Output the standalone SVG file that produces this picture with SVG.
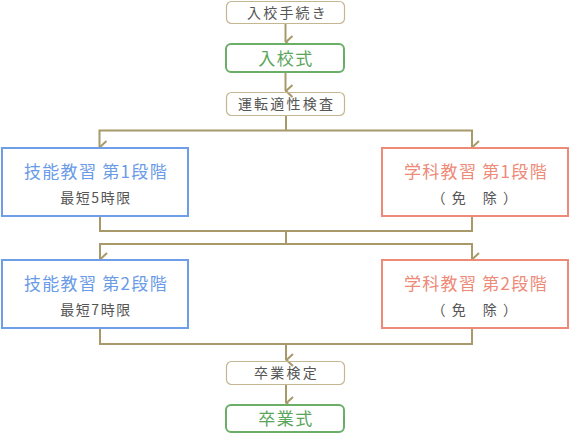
<svg xmlns="http://www.w3.org/2000/svg" width="570" height="434" viewBox="0 0 570 434">
<defs>
<style>
text{font-family:"Noto Sans CJK JP","Liberation Sans",sans-serif;text-anchor:middle}
.sm{fill:none;stroke:#c4b691;stroke-width:1.2}
.gr{fill:#fff;stroke:#6aae68;stroke-width:2}
.bl{fill:#fff;stroke:#6f9ee8;stroke-width:2}
.sa{fill:#fff;stroke:#ee8a78;stroke-width:2}
.t13{font-size:14px;fill:#555;letter-spacing:2.2px}
.tg{font-size:17px;fill:#5aa55a;letter-spacing:1.5px}
.tb{font-size:17px;fill:#6b9be6;letter-spacing:1.3px}
.ts{font-size:17px;fill:#ee8a78;letter-spacing:1.3px}
.sub{font-size:14px;fill:#555;letter-spacing:1.5px}
.ln{fill:none;stroke:#a8996b;stroke-width:2}
</style>
<marker id="ar" viewBox="0 0 14 10" refX="7" refY="9" markerWidth="14" markerHeight="10" markerUnits="userSpaceOnUse" orient="auto-start-reverse">
<path d="M1,2 L7,8.5 L13,2" fill="none" stroke="#a8996b" stroke-width="2"/>
</marker>
</defs>
<g id="connectors">
<path class="ln" d="M285.5,24 V42" marker-end="url(#ar)"/>
<path class="ln" d="M285.5,72 V91" marker-end="url(#ar)"/>
<path class="ln" d="M286,116 V130.5"/>
<path class="ln" d="M99.5,147 V130.5 H472 V147" marker-start="url(#ar)" marker-end="url(#ar)"/>
<path class="ln" d="M100,216 V231 H472 V216"/>
<path class="ln" d="M286,231 V244"/>
<path class="ln" d="M100,259 V244 H472 V259" marker-start="url(#ar)" marker-end="url(#ar)"/>
<path class="ln" d="M100,328 V344 H472 V328"/>
<path class="ln" d="M286,344 V360" marker-end="url(#ar)"/>
<path class="ln" d="M286,385 V403" marker-end="url(#ar)"/>
</g>
<g id="n1"><rect class="sm" x="226.5" y="1.5" width="118" height="22" rx="5"/><text class="t13" x="287.5" y="17.5">入校手続き</text></g>
<g id="n2"><rect class="gr" x="226" y="44" width="118" height="28" rx="5"/><text class="tg" x="286" y="65">入校式</text></g>
<g id="n3"><rect class="sm" x="226.5" y="92.5" width="118" height="23" rx="5"/><text class="t13" x="286.5" y="109">運転適性検査</text></g>
<g id="n4"><rect class="bl" x="2" y="148" width="186" height="68"/><text class="tb" x="96" y="178">技能教習  第1段階</text><text class="sub" x="96" y="203">最短5時限</text></g>
<g id="n5"><rect class="sa" x="382" y="148" width="186" height="68"/><text class="ts" x="476" y="178">学科教習  第1段階</text><text class="sub" x="475" y="203" xml:space="preserve">（ 免　除 ）</text></g>
<g id="n6"><rect class="bl" x="2" y="260" width="186" height="68"/><text class="tb" x="96" y="290">技能教習  第2段階</text><text class="sub" x="96" y="315">最短7時限</text></g>
<g id="n7"><rect class="sa" x="382" y="260" width="186" height="68"/><text class="ts" x="476" y="290">学科教習  第2段階</text><text class="sub" x="475" y="315" xml:space="preserve">（ 免　除 ）</text></g>
<g id="n8"><rect class="sm" x="226.5" y="361.5" width="118" height="23" rx="5"/><text class="t13" x="286.5" y="378">卒業検定</text></g>
<g id="n9"><rect class="gr" x="226" y="405" width="118" height="27" rx="5"/><text class="tg" x="286" y="425">卒業式</text></g>
</svg>
